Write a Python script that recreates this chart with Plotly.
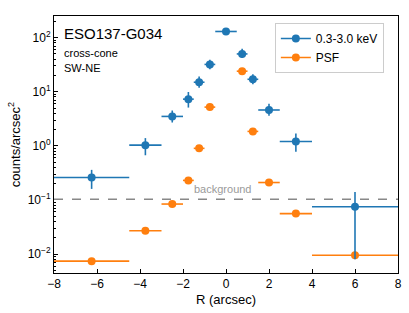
import math
import plotly.graph_objects as go

# ---- data ----
bin_lo = [-8.0, -4.5, -3.0, -2.0, -1.5, -1.0, -0.5, 0.5, 1.0, 1.5, 2.5, 4.0]
bin_hi = [-4.5, -3.0, -2.0, -1.5, -1.0, -0.5, 0.5, 1.0, 1.5, 2.5, 4.0, 8.0]

soft_y = [0.26, 1.03, 3.5, 7.3, 15.0, 32.0, 130.0, 50.0, 17.0, 4.6, 1.2, 0.075]
soft_err_up = [0.10, 0.36, 1.0, 2.6, 4.2, 7.0, 13.0, 12.0, 4.0, 1.4, 0.5, 0.065]
soft_err_dn = [0.10, 0.36, 0.8, 2.2, 3.2, 6.0, 12.0, 8.0, 3.3, 1.0, 0.42, 0.067]

psf_lo = [-8.0, -4.5, -3.0, -2.0, -1.5, -1.0, 0.5, 1.0, 1.5, 2.5, 4.0]
psf_hi = [-4.5, -3.0, -2.0, -1.5, -1.0, -0.5, 1.0, 1.5, 2.5, 4.0, 8.0]
psf_y = [0.0074, 0.027, 0.084, 0.23, 0.90, 5.2, 24.0, 1.85, 0.21, 0.056, 0.0095]

background_level = 0.103

y_tickvals = [0.01, 0.1, 1, 10, 100]
y_ticktext = ["10<sup>\u22122</sup>", "10<sup>\u22121</sup>", "10<sup>0</sup>", "10<sup>1</sup>", "10<sup>2</sup>"]
x_tickvals = [-8, -6, -4, -2, 0, 2, 4, 6, 8]
x_ticktext = ["\u22128", "\u22126", "\u22124", "\u22122", "0", "2", "4", "6", "8"]

BLUE = "#1f77b4"
ORANGE = "#ff7f0e"
FONT = "Liberation Sans, Arial, sans-serif"

def centers(lo, hi):
    return [(a + b) / 2 for a, b in zip(lo, hi)]

def halfw(lo, hi):
    return [(b - a) / 2 for a, b in zip(lo, hi)]

minor_vals = []
for e in [0.001, 0.01, 0.1, 1, 10, 100]:
    for m in range(2, 10):
        minor_vals.append(m * e)

fig = go.Figure()

fig.add_trace(go.Scatter(
    x=centers(psf_lo, psf_hi), y=psf_y, mode="markers",
    marker=dict(color=ORANGE, size=8),
    error_x=dict(type="data", array=halfw(psf_lo, psf_hi), color=ORANGE, thickness=1.6, width=0),
    showlegend=False,
))
fig.add_trace(go.Scatter(
    x=centers(bin_lo, bin_hi), y=soft_y, mode="markers",
    marker=dict(color=BLUE, size=8),
    error_x=dict(type="data", array=halfw(bin_lo, bin_hi), color=BLUE, thickness=1.6, width=0),
    error_y=dict(type="data", array=soft_err_up, arrayminus=soft_err_dn, color=BLUE, thickness=1.6, width=0),
    showlegend=False,
))
# legend-only entries
fig.add_trace(go.Scatter(x=[None], y=[None], mode="lines+markers", name="0.3-3.0 keV",
                         marker=dict(color=BLUE, size=8), line=dict(color=BLUE, width=1.6)))
fig.add_trace(go.Scatter(x=[None], y=[None], mode="lines+markers", name="PSF",
                         marker=dict(color=ORANGE, size=8), line=dict(color=ORANGE, width=1.6)))

fig.add_shape(type="line", xref="x domain", x0=0, x1=1, yref="y",
              y0=background_level, y1=background_level,
              line=dict(color="#888888", width=1.5, dash="dash"))
fig.add_annotation(x=-0.12, y=math.log10(background_level), xref="x", yref="y", text="background",
                   showarrow=False, yanchor="bottom", yshift=2,
                   font=dict(family=FONT, size=11, color="#9a9a9a"))

fig.add_annotation(x=0.024, y=0.93, xref="paper", yref="paper", text="ESO137-G034",
                   showarrow=False, xanchor="left", yanchor="middle",
                   font=dict(family=FONT, size=15, color="black"))
fig.add_annotation(x=0.024, y=0.856, xref="paper", yref="paper", text="cross-cone",
                   showarrow=False, xanchor="left", yanchor="middle",
                   font=dict(family=FONT, size=11, color="black"))
fig.add_annotation(x=0.024, y=0.798, xref="paper", yref="paper", text="SW-NE",
                   showarrow=False, xanchor="left", yanchor="middle",
                   font=dict(family=FONT, size=11, color="black"))

fig.update_layout(
    width=409, height=313,
    margin=dict(l=54, r=11, t=16, b=40, autoexpand=False),
    paper_bgcolor="white", plot_bgcolor="white",
    font=dict(family=FONT, size=12, color="black"),
    legend=dict(x=0.642, y=0.973, xanchor="left", yanchor="top",
                bgcolor="white", bordercolor="#cccccc", borderwidth=1,
                font=dict(family=FONT, size=12), itemwidth=30, tracegroupgap=2),
    xaxis=dict(range=[-8, 8], tickvals=x_tickvals, ticktext=x_ticktext,
               ticks="inside", ticklen=4, tickcolor="black", automargin=False,
               showline=True, linecolor="black", linewidth=1, mirror=True,
               showgrid=False, zeroline=False,
               title=dict(text="R (arcsec)", font=dict(size=13), standoff=4)),
    yaxis=dict(type="log", range=[-2.35, 2.4], tickvals=y_tickvals, ticktext=y_ticktext,
               ticks="inside", ticklen=4, tickcolor="black", automargin=False,
               minor=dict(tickvals=minor_vals, ticks="inside", ticklen=2, tickcolor="black"),
               showline=True, linecolor="black", linewidth=1, mirror=True,
               showgrid=False, zeroline=False,
               title=dict(text="counts/arcsec<sup>2</sup>", font=dict(size=13), standoff=4)),
)

fig.write_html("out.html", config={"displayModeBar": False},
               post_script="document.body.style.margin='0';document.body.style.overflow='hidden';")
